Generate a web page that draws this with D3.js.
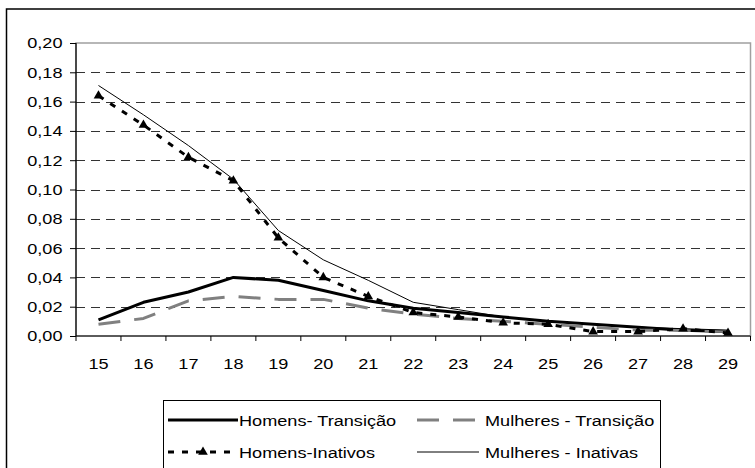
<!DOCTYPE html>
<html>
<head>
<meta charset="utf-8">
<script src="https://cdn.jsdelivr.net/npm/d3@7"></script>
<style>
  body { margin: 0; background: #fff; }
  text { font-family: "Liberation Sans", Arial, sans-serif; }
</style>
</head>
<body>
<div id="chart"></div>
<script>
// Data
const ages = [15, 16, 17, 18, 19, 20, 21, 22, 23, 24, 25, 26, 27, 28, 29];
const homensTransicao  = [0.011, 0.023, 0.030, 0.040, 0.038, 0.031, 0.024, 0.019, 0.016, 0.013, 0.010, 0.008, 0.006, 0.004, 0.003];
const mulheresTransicao = [0.008, 0.012, 0.024, 0.027, 0.025, 0.025, 0.019, 0.015, 0.012, 0.010, 0.008, 0.006, 0.004, 0.004, 0.003];
const homensInativos   = [0.164, 0.144, 0.122, 0.106, 0.067, 0.040, 0.027, 0.016, 0.013, 0.009, 0.008, 0.003, 0.003, 0.005, 0.002];
const mulheresInativas = [0.171, 0.151, 0.130, 0.107, 0.072, 0.052, 0.038, 0.023, 0.018, 0.013, 0.010, 0.008, 0.006, 0.005, 0.004];
const yTicks = [0, 0.02, 0.04, 0.06, 0.08, 0.10, 0.12, 0.14, 0.16, 0.18, 0.20];

const width = 755, height = 468;
const plot = {left: 76, right: 750.5, top: 43, bottom: 336};
const FONT = 15.5, STRETCH = 1.17;   // text in the picture is a bit wider than plain Arial

const series = [
  {name: "Homens- Transição",   values: homensTransicao,  color: "#000", width: 3,   dash: null,    marker: false},
  {name: "Mulheres - Transição", values: mulheresTransicao, color: "#808080", width: 3, dash: "22,14", marker: false},
  {name: "Homens-Inativos",     values: homensInativos,   color: "#000", width: 3,   dash: "6,8",   marker: true},
  {name: "Mulheres - Inativas", values: mulheresInativas, color: "#000", width: 1,   dash: null,    marker: false}
];

const svg = d3.select("#chart").append("svg")
    .attr("width", width)
    .attr("height", height);

// outer frame
svg.append("rect")
    .attr("x", 6.5).attr("y", 9)
    .attr("width", 752).attr("height", 470)
    .attr("fill", "#fff")
    .attr("stroke", "#000")
    .attr("stroke-width", 1.5);

let x = d3.scaleBand()
    .domain(ages)
    .range([plot.left, plot.right])
    .padding(0);

let y = d3.scaleLinear()
    .domain([0, 0.20])
    .range([plot.bottom, plot.top]);

const fmt = d => d3.format(".2f")(d).replace(".", ",");

// plot area border (gray)
svg.append("rect")
    .attr("x", plot.left).attr("y", plot.top)
    .attr("width", plot.right - plot.left).attr("height", plot.bottom - plot.top)
    .attr("fill", "none")
    .attr("stroke", "#a0a0a0")
    .attr("stroke-width", 1.5);

// gridlines
svg.append("g")
    .selectAll("line")
    .data(yTicks.filter(d => d > 0 && d < 0.2))
    .enter()
    .append("line")
    .attr("x1", plot.left).attr("x2", plot.right)
    .attr("y1", d => Math.round(y(d)) + 0.5)
    .attr("y2", d => Math.round(y(d)) + 0.5)
    .attr("stroke", "#333")
    .attr("stroke-width", 1)
    .attr("stroke-dasharray", "9,6");

// y axis
let yAxis = svg.append("g")
    .attr("transform", `translate(${plot.left}, 0)`)
    .call(d3.axisLeft(y).tickValues(yTicks).tickFormat(fmt).tickSize(6).tickPadding(8));

// x axis
let xAxis = svg.append("g")
    .attr("transform", `translate(0, ${plot.bottom})`)
    .call(d3.axisBottom(x).tickSize(0));

// x tick marks between categories
svg.append("g")
    .selectAll("line")
    .data(ages.concat([null]))
    .enter()
    .append("line")
    .attr("x1", (d, i) => plot.left + i * x.bandwidth())
    .attr("x2", (d, i) => plot.left + i * x.bandwidth())
    .attr("y1", plot.bottom)
    .attr("y2", plot.bottom + 5)
    .attr("stroke", "#000");

[yAxis, xAxis].forEach(a => {
    a.select(".domain").attr("stroke", "#000").attr("stroke-width", 1.2);
    a.selectAll("text").attr("font-size", FONT).attr("fill", "#000")
        .style("font-family", "'Liberation Sans', Arial, sans-serif");
    a.selectAll(".tick line").attr("stroke", "#000");
});
yAxis.select(".domain").attr("d", `M0,${plot.top}V${plot.bottom}`);
xAxis.select(".domain").attr("d", `M${plot.left},0H${plot.right}`);
yAxis.selectAll(".tick text")
    .attr("x", -13.5 / STRETCH)
    .attr("transform", `scale(${STRETCH},1)`);
xAxis.selectAll(".tick text")
    .attr("y", 33).attr("dy", 0)
    .attr("transform", `scale(${STRETCH},1)`);

// lines
let line = d3.line()
    .x((d, i) => x(ages[i]) + x.bandwidth() / 2)
    .y(d => y(d));

let triangle = d3.symbol().type(d3.symbolTriangle).size(40);

series.forEach(s => {
    svg.append("path")
        .datum(s.values)
        .attr("d", line)
        .attr("fill", "none")
        .attr("stroke", s.color)
        .attr("stroke-width", s.width)
        .attr("stroke-dasharray", s.dash)
        .attr("stroke-linejoin", "round");
    if (s.marker) {
        svg.append("g").selectAll("path")
            .data(s.values)
            .enter()
            .append("path")
            .attr("d", triangle)
            .attr("fill", "#000")
            .attr("transform", (d, i) => `translate(${x(ages[i]) + x.bandwidth() / 2}, ${y(d)})`);
    }
});

// legend
const legend = svg.append("g");
legend.append("rect")
    .attr("x", 163.5).attr("y", 400.5)
    .attr("width", 497).attr("height", 80)
    .attr("fill", "#fff")
    .attr("stroke", "#000")
    .attr("stroke-width", 1);

const legendPos = [
    {x: 168, y: 420}, {x: 417, y: 420},
    {x: 168, y: 452}, {x: 417, y: 452}
];

series.forEach((s, i) => {
    let p = legendPos[i];
    let len = i % 2 === 0 ? 70 : 62;
    legend.append("line")
        .attr("x1", p.x).attr("x2", p.x + len)
        .attr("y1", p.y).attr("y2", p.y)
        .attr("stroke", s.color)
        .attr("stroke-width", s.width)
        .attr("stroke-dasharray", s.dash);
    if (s.marker) {
        legend.append("path")
            .attr("d", triangle)
            .attr("fill", "#000")
            .attr("transform", `translate(${p.x + len / 2}, ${p.y})`);
    }
    legend.append("text")
        .attr("transform", `translate(${p.x + len + (i % 2 === 0 ? 1 : 6)}, ${p.y + 6}) scale(${STRETCH},1)`)
        .attr("font-size", FONT)
        .text(s.name);
});
</script>
</body>
</html>
